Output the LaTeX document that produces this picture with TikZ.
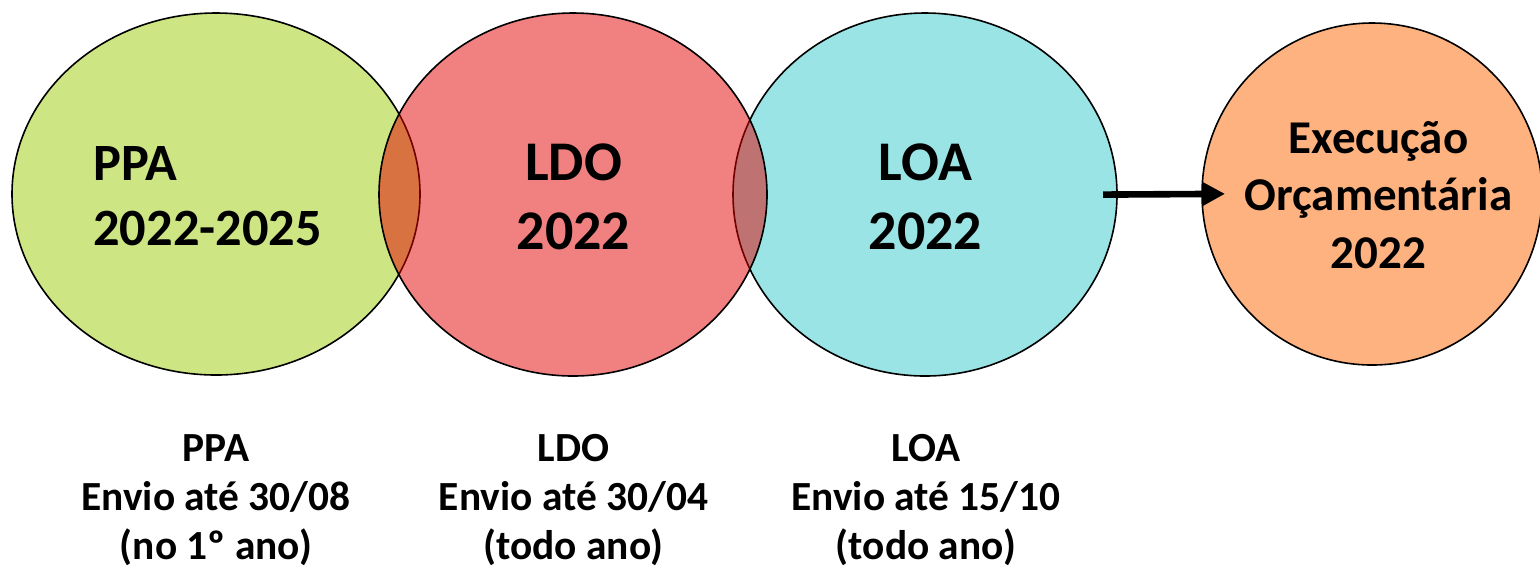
\documentclass[tikz,border=0pt]{standalone}
\usepackage{fontspec}
\setmainfont{Carlito}
\usetikzlibrary{shapes.geometric,arrows.meta}
\definecolor{ppagreen}{RGB}{206,229,131}
\definecolor{ldored}{RGB}{227,1,1}
\definecolor{loacyan}{RGB}{154,228,229}
\definecolor{execorange}{RGB}{254,178,128}
\begin{document}
\begin{tikzpicture}[x=0.5pt,y=-0.5pt,
  bubble/.style={ellipse,draw=black,line width=0.8pt,inner sep=0pt},
  ppatext/.style={font=\bfseries\fontsize{26.2}{32.5}\selectfont,align=left,inner sep=0pt},
  bigtext/.style={font=\bfseries\fontsize{28}{34.5}\selectfont,align=center,inner sep=0pt},
  exectext/.style={font=\bfseries\fontsize{23.5}{28.75}\selectfont,align=center,inner sep=0pt},
  datetext/.style={font=\bfseries\fontsize{20.7}{24.3}\selectfont,align=center,inner sep=0pt},
  flow/.style={line width=3.3pt,-{Triangle[length=11pt,width=11pt]}}]
\useasboundingbox (0,0) rectangle (1540,570);
% circles
\node[bubble,fill=ppagreen,minimum width=204pt,minimum height=181pt] (ppa) at (216,194) {};
\node[bubble,fill=loacyan,minimum width=192pt,minimum height=181.5pt] (loa) at (925,194.5) {};
\node[bubble,fill=execorange,minimum width=170pt,minimum height=171pt] (exec) at (1372,194) {};
\node[bubble,fill=ldored,fill opacity=0.5,minimum width=194pt,minimum height=181.5pt] (ldo) at (573,194.5) {};
% texts in circles (base anchor = baseline of last line)
\node[ppatext,anchor=base west] (ppat) at (93,245) {PPA\\2022-2025};
\node[bigtext,anchor=base] (ldot) at (573.5,249) {LDO\\2022};
\node[bigtext,anchor=base] (loat) at (925.5,249) {LOA\\2022};
\node[exectext,anchor=base] (exect) at (1378.5,268) {Execução\\Orçamentária\\2022};
% arrow
\draw[flow,shorten <=-7.4pt,shorten >=-11.9pt] (loa.east) -- (exec.west);
% bottom labels
\node[datetext,anchor=base] (ppad) at (216,559) {PPA\\Envio até 30/08\\(no 1º ano)};
\node[datetext,anchor=base] (ldod) at (573.5,559) {LDO\\Envio até 30/04\\(todo ano)};
\node[datetext,anchor=base] (load) at (926,559) {LOA\\Envio até 15/10\\(todo ano)};
\end{tikzpicture}
\end{document}
